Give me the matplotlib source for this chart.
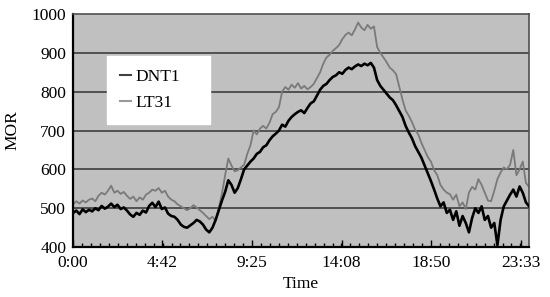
import numpy as np
import matplotlib
matplotlib.use("Agg")
import matplotlib.pyplot as plt
from matplotlib.ticker import MultipleLocator

# time axis: one sample every 10 minutes, 0:00 .. 24:00
minutes = np.arange(0, 1441, 10)

dnt1 = [
    488, 494, 485, 497, 490, 496,
    492, 500, 495, 506, 499, 504,
    512, 503, 509, 498, 502, 494,
    484, 478, 488, 483, 494, 489,
    506, 514, 503, 517, 498, 502,
    486, 480, 478, 470, 458, 452,
    450, 456, 462, 470, 466, 458,
    445, 438, 450, 470, 495, 520,
    542, 572, 560, 540, 552, 575,
    600, 610, 620, 628, 640, 645,
    657, 662, 675, 685, 692, 700,
    715, 710, 725, 735, 742, 748,
    752, 745, 758, 770, 775, 790,
    805, 815, 820, 830, 838, 842,
    850, 846, 856, 862, 858, 865,
    870, 866, 872, 868, 874, 862,
    830, 815, 805, 795, 785, 778,
    765, 750, 735, 712, 695, 680,
    660, 645, 630, 610, 590, 570,
    548, 525, 505, 515, 488, 496,
    470, 492, 455, 480, 462, 438,
    475, 500, 488, 505, 470, 480,
    450, 462, 405, 470, 505, 520,
    535, 548, 530, 556, 540, 515,
    505,
]

lt31 = [
    510, 518, 512, 520, 515, 522,
    525, 518, 532, 540, 535, 545,
    558, 540, 545, 537, 542, 532,
    524, 530, 518, 528, 522, 535,
    540, 548, 545, 552, 540, 545,
    530, 522, 518, 510, 505, 500,
    495, 500, 508, 502, 495, 488,
    480, 472, 478, 468, 500, 538,
    585, 628, 610, 595, 598, 605,
    612, 640, 662, 700, 690, 705,
    712, 705, 720, 742, 748, 760,
    800, 812, 805, 818, 810, 822,
    808, 815, 806, 812, 820, 835,
    850, 872, 888, 895, 905, 912,
    920, 935, 946, 952, 945, 960,
    978, 965, 958, 972, 962, 968,
    915, 900, 888, 876, 862, 855,
    845, 812, 780, 752, 738, 722,
    702, 690, 668, 650, 632, 620,
    598, 585, 560, 548, 540, 536,
    522, 535, 505, 515, 498, 540,
    555, 548, 575, 560, 540, 520,
    518, 545, 575, 592, 605, 600,
    612, 650, 585, 600, 620, 565,
    555,
]

tick_minutes = [0, 282, 565, 848, 1130, 1413]
tick_labels = ["0:00", "4:42", "9:25", "14:08", "18:50", "23:33"]

plt.rcParams['font.family'] = ['Liberation Serif', 'DejaVu Serif']

fig = plt.figure(figsize=(5.5, 2.97), dpi=100)
ax = fig.add_axes([0.133, 0.168, 0.829, 0.785])
ax.set_facecolor('#c0c0c0')

for v in [500, 600, 700, 800, 900]:
    ax.axhline(v, color='#505050', linewidth=1.4, zorder=1)

ax.plot(minutes, lt31, color='#7a7a7a', linewidth=1.3, label='LT31', zorder=2)
ax.plot(minutes, dnt1, color='black', linewidth=1.9, label='DNT1', zorder=3)

ax.set_xlim(0, 1440)
ax.set_ylim(400, 1000)
ax.set_yticks([400, 500, 600, 700, 800, 900, 1000])
ax.set_xticks(tick_minutes)
ax.set_xticklabels(tick_labels)
ax.xaxis.set_minor_locator(MultipleLocator(28.25))
ax.tick_params(axis='x', which='major', direction='in', length=5, width=1, pad=6, labelsize=12.5)
ax.tick_params(axis='x', which='minor', direction='in', length=3, width=1)
ax.tick_params(axis='y', length=0, pad=5, labelsize=12.5)

for s in ['left', 'bottom']:
    ax.spines[s].set_color('black')
    ax.spines[s].set_linewidth(1.6)
for s in ['top', 'right']:
    ax.spines[s].set_color('#505050')
    ax.spines[s].set_linewidth(1.2)

ax.set_xlabel('Time', fontsize=12.5, labelpad=3)
ax.set_ylabel('MOR', fontsize=12.5, labelpad=8)

# legend box stretched to the width of the white panel in the original
handles, labels = ax.get_legend_handles_labels()
leg = ax.legend(handles[::-1], labels[::-1], loc='upper left',
                bbox_to_anchor=(0.075, 0.524, 0.226, 0.296), mode='expand',
                borderaxespad=0, fancybox=False, edgecolor='white', framealpha=1,
                fontsize=12.5, handlelength=0.6, handletextpad=0.25,
                labelspacing=0.55, borderpad=0.75)
for line, col in zip(leg.get_lines(), ['#404040', '#999999']):
    line.set_color(col)
    line.set_linewidth(1.5)

fig.savefig('out.png', dpi=100)
